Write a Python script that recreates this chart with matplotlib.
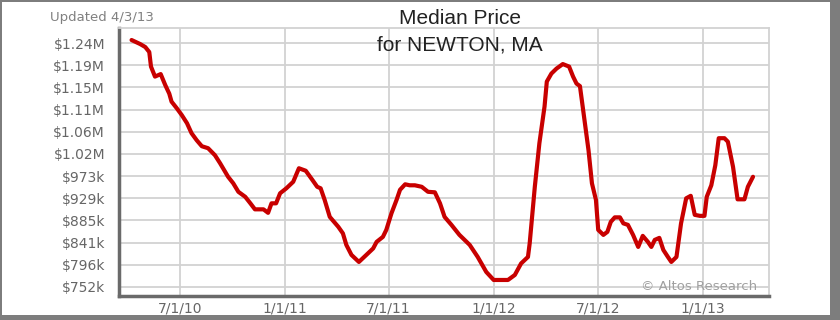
import matplotlib
matplotlib.use("Agg")
import matplotlib.pyplot as plt
from matplotlib.patches import Rectangle
import pandas as pd

# median price (dates, $k)
dates = ["2010-04-07", "2010-04-22", "2010-05-01", "2010-05-08", "2010-05-11", "2010-05-18",
         "2010-05-28", "2010-06-05", "2010-06-12", "2010-06-16", "2010-06-25", "2010-07-04",
         "2010-07-13", "2010-07-21", "2010-07-30", "2010-08-08", "2010-08-19", "2010-08-31",
         "2010-09-09", "2010-09-23", "2010-10-02", "2010-10-11", "2010-10-23", "2010-11-01",
         "2010-11-09", "2010-11-24", "2010-12-02", "2010-12-08", "2010-12-16", "2010-12-23",
         "2011-01-03", "2011-01-15", "2011-01-25", "2011-02-06", "2011-02-18", "2011-02-26",
         "2011-03-04", "2011-03-11", "2011-03-20", "2011-04-04", "2011-04-12", "2011-04-18",
         "2011-04-27", "2011-05-10", "2011-05-23", "2011-06-04", "2011-06-10", "2011-06-21",
         "2011-06-27", "2011-07-06", "2011-07-15", "2011-07-21", "2011-07-30", "2011-08-07",
         "2011-08-16", "2011-08-28", "2011-09-08", "2011-09-20", "2011-09-29", "2011-10-07",
         "2011-10-19", "2011-11-02", "2011-11-20", "2011-12-04", "2011-12-19", "2012-01-01",
         "2012-01-26", "2012-02-07", "2012-02-18", "2012-03-01", "2012-03-04", "2012-03-13",
         "2012-03-21", "2012-03-30", "2012-04-03", "2012-04-11", "2012-04-20", "2012-05-01",
         "2012-05-12", "2012-05-19", "2012-05-25", "2012-05-31", "2012-06-06", "2012-06-15",
         "2012-06-21", "2012-06-28", "2012-07-02", "2012-07-11", "2012-07-18", "2012-07-24",
         "2012-07-31", "2012-08-09", "2012-08-15", "2012-08-23", "2012-09-01", "2012-09-10",
         "2012-09-18", "2012-09-27", "2012-10-03", "2012-10-09", "2012-10-17", "2012-10-24",
         "2012-11-01", "2012-11-07", "2012-11-16", "2012-11-24", "2012-12-03", "2012-12-11",
         "2012-12-18", "2012-12-27", "2013-01-04", "2013-01-08", "2013-01-16", "2013-01-23",
         "2013-01-29", "2013-02-08", "2013-02-14", "2013-02-23", "2013-03-03", "2013-03-15",
         "2013-03-21", "2013-03-30"]
price_k = [1245, 1237, 1231, 1221, 1192, 1172,
           1177, 1155, 1138, 1122, 1109, 1095,
           1079, 1059, 1045, 1033, 1029, 1015,
           999, 972, 959, 942, 932, 919,
           907, 907, 900, 919, 919, 939,
           949, 962, 989, 984, 965, 952,
           949, 926, 892, 872, 859, 836,
           816, 802, 816, 829, 842, 852,
           866, 899, 926, 946, 957, 955,
           955, 952, 942, 941, 919, 892,
           876, 856, 836, 812, 782, 766,
           766, 776, 799, 812, 839, 952,
           1039, 1112, 1162, 1178, 1188, 1197,
           1192, 1172, 1158, 1153, 1102, 1025,
           959, 926, 866, 856, 862, 882,
           891, 891, 879, 876, 856, 832,
           854, 842, 832, 846, 850, 826,
           812, 802, 812, 879, 929, 934,
           896, 894, 894, 932, 955, 995,
           1049, 1049, 1042, 992, 927, 927,
           952, 972]

y_ticks = [752000, 796250, 840500, 884750, 929000, 973250,
           1017500, 1061750, 1106000, 1150250, 1194500, 1238750]
y_labels = ["$752k", "$796k", "$841k", "$885k", "$929k", "$973k",
            "$1.02M", "$1.06M", "$1.11M", "$1.15M", "$1.19M", "$1.24M"]
x_ticks = ["2010-07-01", "2011-01-01", "2011-07-01", "2012-01-01", "2012-07-01", "2013-01-01"]
x_labels = ["7/1/10", "1/1/11", "7/1/11", "1/1/12", "7/1/12", "1/1/13"]

W, H = 840, 320
fig = plt.figure(figsize=(W / 100, H / 100), dpi=100, facecolor="#7d7d7d")
# white card inside the grey frame
fig.patches.append(Rectangle((2 / W, 5 / H), 828 / W, 313 / H, transform=fig.transFigure,
                             facecolor="white", edgecolor="none", zorder=-5))

ax = fig.add_axes([119 / W, (H - 296) / H, 650 / W, 268 / H])
ax.set_facecolor("white")

x = pd.to_datetime(dates)
y = [v * 1000 for v in price_k]
ax.plot(x, y, color="#c80000", lw=3, solid_joinstyle="round", solid_capstyle="round", zorder=3)

ax.set_xlim(pd.Timestamp("2010-03-16"), pd.Timestamp("2013-04-27"))
ax.set_ylim(734000, 1269000)
ax.set_yticks(y_ticks)
ax.set_yticklabels(y_labels)
ax.set_xticks(pd.to_datetime(x_ticks))
ax.set_xticklabels(x_labels)

ax.grid(True, color="#d2d2d2", lw=1.3)
ax.set_axisbelow(True)
ax.tick_params(length=0, labelsize=10, labelcolor="#666666")
ax.tick_params(axis="y", pad=10)
ax.tick_params(axis="x", pad=4)

for s in ["top", "right"]:
    ax.spines[s].set_color("#d2d2d2")
    ax.spines[s].set_linewidth(1.3)
for s in ["left", "bottom"]:
    ax.spines[s].set_color("#6a6a6a")
    ax.spines[s].set_linewidth(2.5)

fig.text(50 / W, 1 - 17 / H, "Updated 4/3/13", fontsize=9.5, color="#808080", va="center", ha="left")
fig.text(460 / W, 1 - 18 / H, "Median Price", fontsize=15, color="#222222", ha="center", va="center",
         family=["Liberation Sans Narrow", "Liberation Sans"])
fig.text(460 / W, 1 - 45 / H, "for NEWTON, MA", fontsize=15, color="#222222", ha="center", va="center",
         family=["Liberation Sans Narrow", "Liberation Sans"])
fig.text(757 / W, 1 - 286 / H, "\u00a9 Altos Research", fontsize=9.5, color="#a0a0a0", ha="right", va="center")

fig.savefig("out.png", dpi=100, facecolor=fig.get_facecolor())
